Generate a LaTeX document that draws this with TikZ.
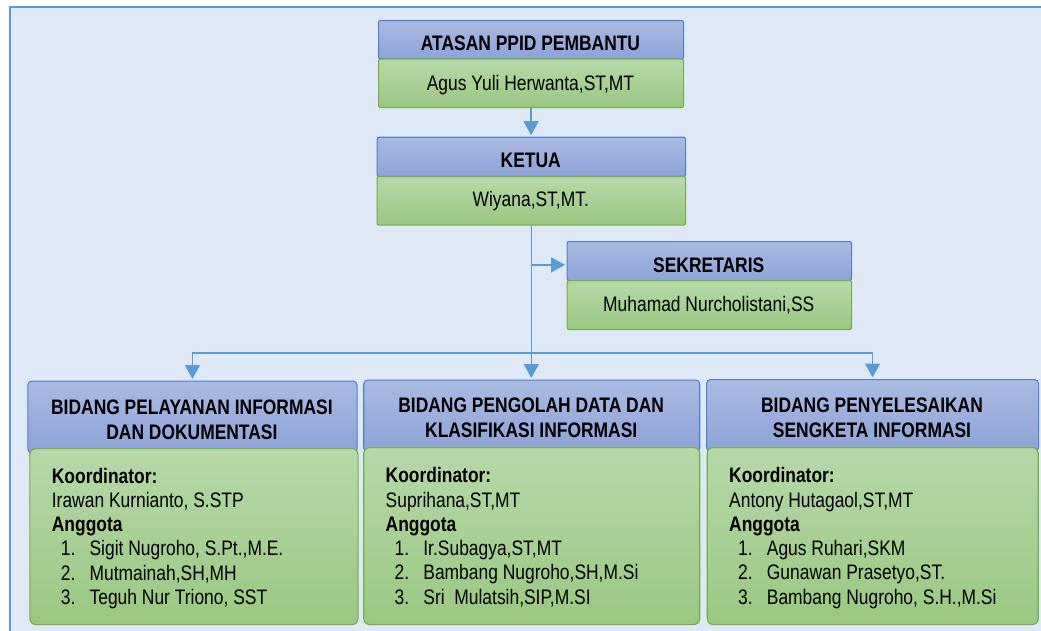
\documentclass[tikz,border=0pt]{standalone}
\usepackage{fontspec}
\setmainfont{Liberation Sans}[FakeStretch=0.83]
\usetikzlibrary{arrows.meta,calc}
\definecolor{bgfill}{HTML}{DEE9F5}
\definecolor{bgline}{HTML}{5B9BD5}
\definecolor{hdtop}{HTML}{ABBAE3}
\definecolor{hdbot}{HTML}{8DA2D7}
\definecolor{hdline}{HTML}{4F80CF}
\definecolor{bdtop}{HTML}{B7D8A9}
\definecolor{bdbot}{HTML}{9BC781}
\definecolor{bdline}{HTML}{72AE4A}
\definecolor{conn}{HTML}{5B9BD5}
\newcommand{\mitem}[2]{\hspace*{9pt}\makebox[28.7pt][l]{#1}#2}
\begin{document}
\begin{tikzpicture}[x=1pt,y=-1pt,
  hdr/.style={draw=hdline, line width=1.1pt, top color=hdtop, bottom color=hdbot,
    rounded corners=2pt, anchor=north west, inner sep=0pt},
  bdy/.style={draw=bdline, line width=1.1pt, top color=bdtop, bottom color=bdbot,
    rounded corners=2pt, anchor=north west, inner sep=0pt},
  bhdr/.style={hdr, rounded corners=4pt},
  bbdy/.style={bdy, rounded corners=6pt},
  ttl/.style={anchor=base, inner sep=0pt, font=\fontsize{21}{25}\selectfont\bfseries},
  nm/.style={anchor=base, inner sep=0pt, font=\fontsize{21}{25}\selectfont},
  mtext/.style={anchor=base west, inner sep=0pt, font=\fontsize{21}{24.3}\selectfont},
  mtitle/.style={anchor=base, inner sep=0pt, font=\fontsize{21}{25}\selectfont\bfseries},
  conn/.style={draw=conn, line width=1.5pt},
  arr/.style={conn, -{Triangle[width=15pt,length=14pt]}, shorten >=1.5pt}
]
\useasboundingbox (0,0) rectangle (1041,631);
\fill[white] (0,0) rectangle (1041,631);
\begin{scope}
\clip (0,0) rectangle (1041,631);
\draw[draw=bgline, fill=bgfill, line width=2pt] (10,7.3) rectangle (1070,660);
\end{scope}

% ATASAN
\node[hdr, minimum width=305pt, minimum height=38.5pt] (atH) at (378,20) {};
\node[bdy, minimum width=305pt, minimum height=48.5pt] (atB) at (378,58.5) {};
\node[ttl] (atT) at (530.5,50.7) {ATASAN PPID PEMBANTU};
\node[nm] (atN) at (530.5,91) {Agus Yuli Herwanta,ST,MT};

% KETUA
\node[hdr, minimum width=308.5pt, minimum height=39.3pt] (ktH) at (376.5,136.7) {};
\node[bdy, minimum width=308.5pt, minimum height=48.5pt] (ktB) at (376.5,176) {};
\node[ttl] (ktT) at (530.75,168) {KETUA};
\node[nm] (ktN) at (530.75,207) {Wiyana,ST,MT.};

% SEKRETARIS
\node[hdr, minimum width=284.5pt, minimum height=39pt] (skH) at (566.5,241) {};
\node[bdy, minimum width=284.5pt, minimum height=49pt] (skB) at (566.5,280) {};
\node[ttl] (skT) at (708.75,272.3) {SEKRETARIS};
\node[nm] (skN) at (708.75,311.7) {Muhamad Nurcholistani,SS};

% BOTTOM BOXES
\node[bhdr, minimum width=329.2pt, minimum height=72pt] (b1H) at (27.3,380.5) {};
\node[bbdy, minimum width=328.2pt, minimum height=176pt] (b1B) at (29.3,448) {};
\node[bhdr, minimum width=336pt, minimum height=72pt] (b2H) at (363.2,379.5) {};
\node[bbdy, minimum width=336pt, minimum height=177pt] (b2B) at (363.2,447) {};
\node[bhdr, minimum width=332pt, minimum height=72pt] (b3H) at (706,379) {};
\node[bbdy, minimum width=331pt, minimum height=177pt] (b3B) at (706.7,447) {};

\node[mtitle] (b1T) at (191.9,414) {\parbox[t]{320pt}{\centering BIDANG PELAYANAN INFORMASI\\DAN DOKUMENTASI}};
\node[mtitle] (b2T) at (531.2,412.7) {\parbox[t]{330pt}{\centering BIDANG PENGOLAH DATA DAN\\KLASIFIKASI INFORMASI}};
\node[mtitle] (b3T) at (872,412.7) {\parbox[t]{325pt}{\centering BIDANG PENYELESAIKAN\\SENGKETA INFORMASI}};

\node[mtext] (b1L) at (51.7,483) {\parbox[t]{300pt}{%
  {\bfseries Koordinator:}\\
  Irawan Kurnianto, S.STP\\
  {\bfseries Anggota}\\
  \mitem{1.}{Sigit Nugroho, S.Pt.,M.E.}\\
  \mitem{2.}{Mutmainah,SH,MH}\\
  \mitem{3.}{Teguh Nur Triono, SST}}};
\node[mtext] (b2L) at (385.5,482.7) {\parbox[t]{300pt}{%
  {\bfseries Koordinator:}\\
  Suprihana,ST,MT\\
  {\bfseries Anggota}\\
  \mitem{1.}{Ir.Subagya,ST,MT}\\
  \mitem{2.}{Bambang Nugroho,SH,M.Si}\\
  \mitem{3.}{Sri\ \ Mulatsih,SIP,M.SI}}};
\node[mtext] (b3L) at (729,482.7) {\parbox[t]{300pt}{%
  {\bfseries Koordinator:}\\
  Antony Hutagaol,ST,MT\\
  {\bfseries Anggota}\\
  \mitem{1.}{Agus Ruhari,SKM}\\
  \mitem{2.}{Gunawan Prasetyo,ST.}\\
  \mitem{3.}{Bambang Nugroho, S.H.,M.Si}}};

% CONNECTORS
\coordinate (skIn) at ($(skH.west)+(0,3.8)$);
\coordinate (split) at ($(ktB.south)+(0,127.2)$);
\draw[arr] (atB.south) -- (atB.south |- ktH.north);
\draw[conn] (ktB.south) -- (ktB.south |- split);
\draw[arr] (ktB.south |- skIn) -- (skIn);
\draw[conn] (b1H.north |- split) -- (b3H.north |- split);
\draw[arr] (ktB.south |- split) -- (ktB.south |- b2H.north);
\draw[arr] (b1H.north |- split) -- (b1H.north);
\draw[arr] (b3H.north |- split) -- (b3H.north);
\end{tikzpicture}
\end{document}
